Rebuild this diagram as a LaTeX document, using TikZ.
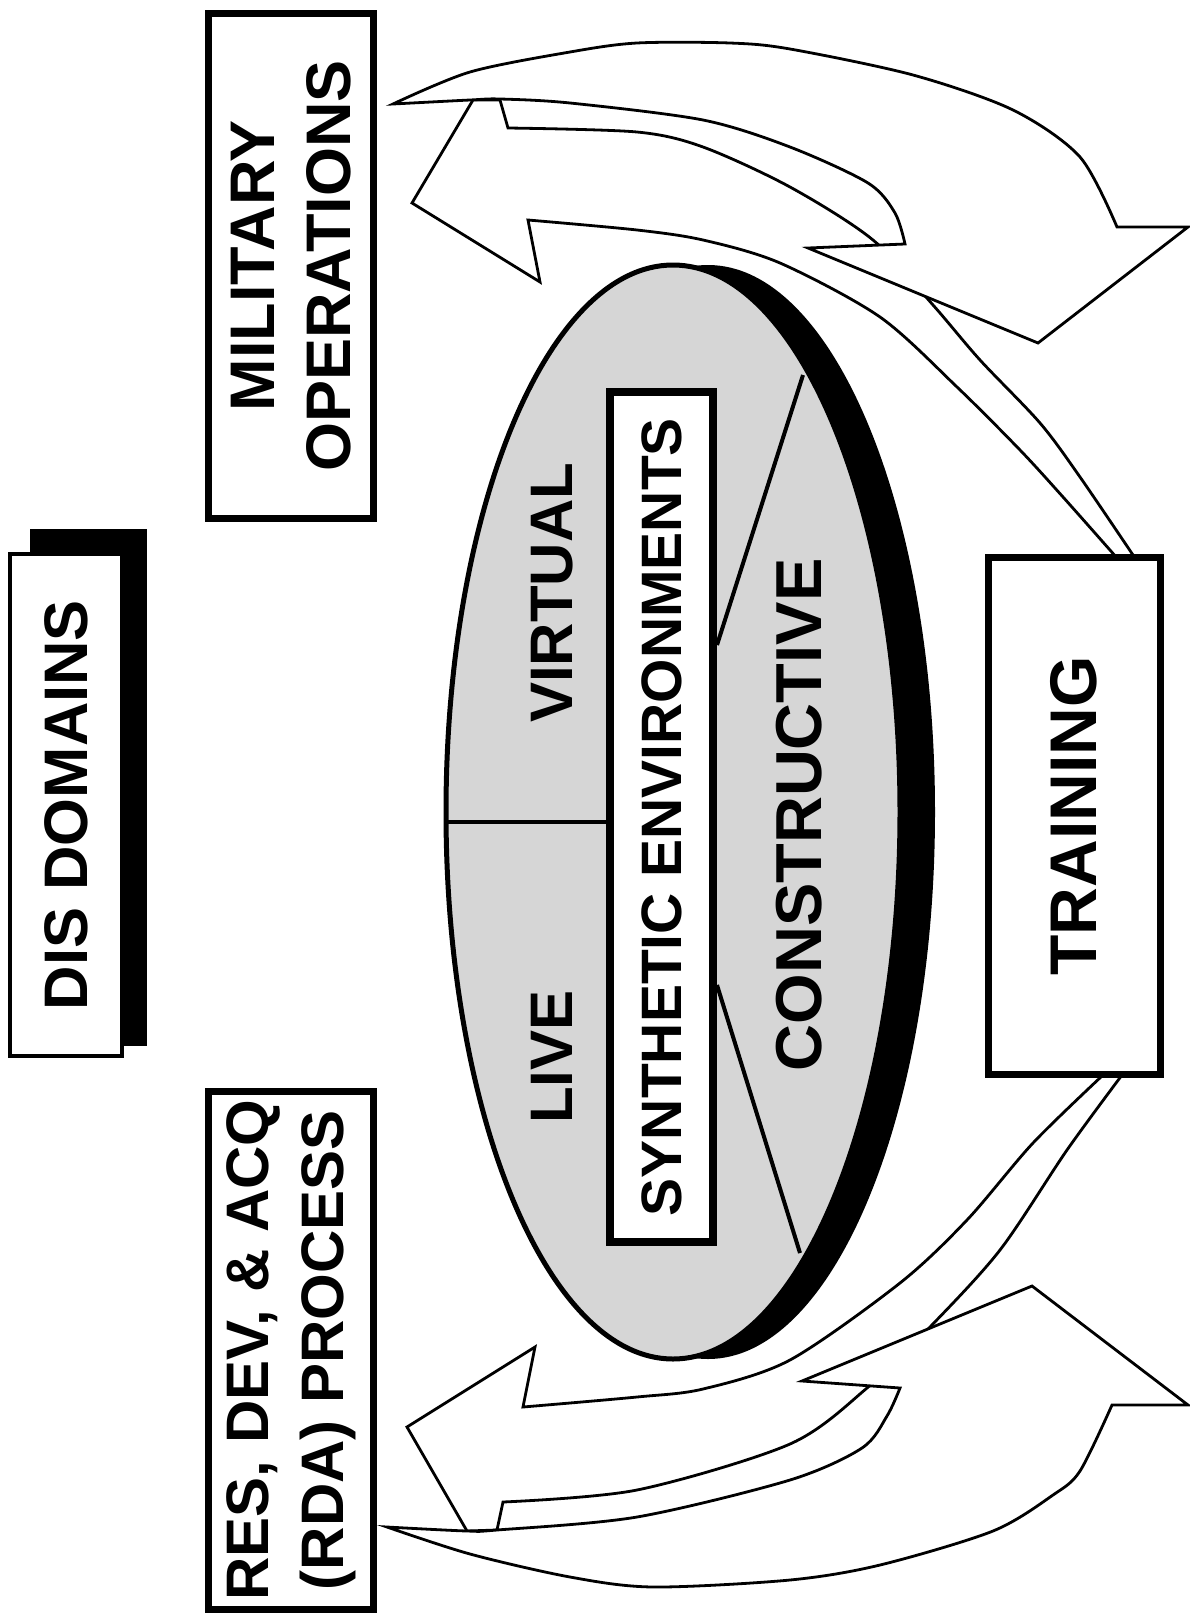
\documentclass[tikz,border=0pt]{standalone}
\usepackage{fontspec}
\setmainfont{Liberation Sans}
\begin{document}
\begin{tikzpicture}[x=1pt,y=-1pt,
  lbl/.style={rotate=90, font=\bfseries\fontsize{60}{75}\selectfont, align=center, inner sep=0pt},
  boxline/.style={draw=black, line width=7pt, fill=white},
  blockarrow/.style={draw=black, line width=2.8pt, fill=white, line join=miter},
  divider/.style={draw=black, line width=4pt}]
\useasboundingbox (0,0) rectangle (1189,1617);

% ---- back arrows (under) ----
\path[blockarrow] (412,203) -- (473,100) -- (500,100) -- (508,128)
  -- plot[smooth] coordinates {(508,128) (637,132) (703,147) (790,187) (873,240) (933,305) (980,360) (1040,423) (1080,477) (1135,558)}
  -- (1117,558)
  -- plot[smooth] coordinates {(1117,558) (1063,497) (1020,450) (957,387) (880,317) (780,263) (703,240) (637,230) (528,220)}
  -- (540,282) -- cycle;
\path[blockarrow] (407,1427) -- (535,1347) -- (523,1407)
  -- plot[smooth] coordinates {(523,1407) (637,1397) (703,1389) (790,1360) (900,1283) (967,1220) (1033,1143) (1103,1075)}
  -- (1122,1075)
  -- plot[smooth] coordinates {(1122,1075) (1067,1150) (1000,1250) (930,1327) (867,1388) (790,1444) (637,1490) (503,1502)}
  -- (497,1530) -- (467,1531) -- cycle;

% ---- front arrows ----
\path[blockarrow] (393,104)
  -- plot[smooth] coordinates {(393,104) (470,100) (500,99) (570,103) (703,120) (790,147) (868,183) (895,213) (905,244)}
  -- (808,248) -- (1038,343) -- (1188,227) -- (1117,227)
  -- plot[smooth] coordinates {(1117,227) (1080,157) (1013,110) (913,75) (790,49) (730,43) (637,43) (570,52) (470,72) (393,104)}
  -- cycle;
\path[blockarrow] (387,1527)
  -- plot[smooth] coordinates {(387,1527) (467,1531) (497,1530) (637,1517) (790,1480) (862,1448) (887,1416) (900,1388)}
  -- (802,1381) -- (1032,1286) -- (1188,1405) -- (1112,1405)
  -- plot[smooth] coordinates {(1112,1405) (1080,1471) (1053,1495) (993,1531) (880,1565) (790,1580) (653,1587) (570,1577) (470,1554) (387,1527)}
  -- cycle;

% ---- disc ----
\fill[black] (708,812) ellipse [x radius=227, y radius=547];
\draw[line width=5pt, fill=black!16] (673,812) ellipse [x radius=227, y radius=547];
\coordinate (divL) at (446,822);
\coordinate (cu1) at (803,375);
\coordinate (cl1) at (800,1253);

% ---- synthetic environments box ----
\node[boxline, line width=8pt, minimum width=103pt, minimum height=850pt, inner sep=0pt] (se) at (661.5,817) {};
\node[lbl, font=\bfseries\fontsize{57}{60}\selectfont] (setext) at (se.center) {SYNTHETIC ENVIRONMENTS};

\draw[divider] (divL) -- (se.west |- divL);
\draw[divider] (se.east |- 0,645) -- (cu1);
\draw[divider] (se.east |- 0,985) -- (cl1);

\node[lbl] (live) at (552,1057) {LIVE};
\node[lbl] (virtual) at (552,593) {VIRTUAL};
\node[lbl, font=\bfseries\fontsize{65}{70}\selectfont] (constr) at (799,815) {CONSTRUCTIVE};

% ---- side boxes ----
\fill[black] (30,529) rectangle (147,1046);
\node[draw=black, line width=3.5pt, fill=white, minimum width=112pt, minimum height=502pt, inner sep=0pt] (disbox) at (66,805) {};
\node[lbl, font=\bfseries\fontsize{61.5}{66}\selectfont] (dis) at (disbox.center) {DIS DOMAINS};

\node[boxline, minimum width=165pt, minimum height=505pt, inner sep=0pt] (milbox) at (291,266) {};
\node[lbl, font=\bfseries\fontsize{63}{76}\selectfont] (mil) at (milbox.center) {MILITARY\\OPERATIONS};

\node[boxline, minimum width=165pt, minimum height=518pt, inner sep=0pt] (rdabox) at (291,1350) {};
\node[lbl] (rda) at (rdabox.center) {RES, DEV, \& ACQ\\(RDA) PROCESS};

\node[boxline, minimum width=172pt, minimum height=517pt, inner sep=0pt] (trbox) at (1074,816) {};
\node[lbl, font=\bfseries\fontsize{66}{70}\selectfont] (tr) at (trbox.center) {TRAINING};
\end{tikzpicture}
\end{document}
